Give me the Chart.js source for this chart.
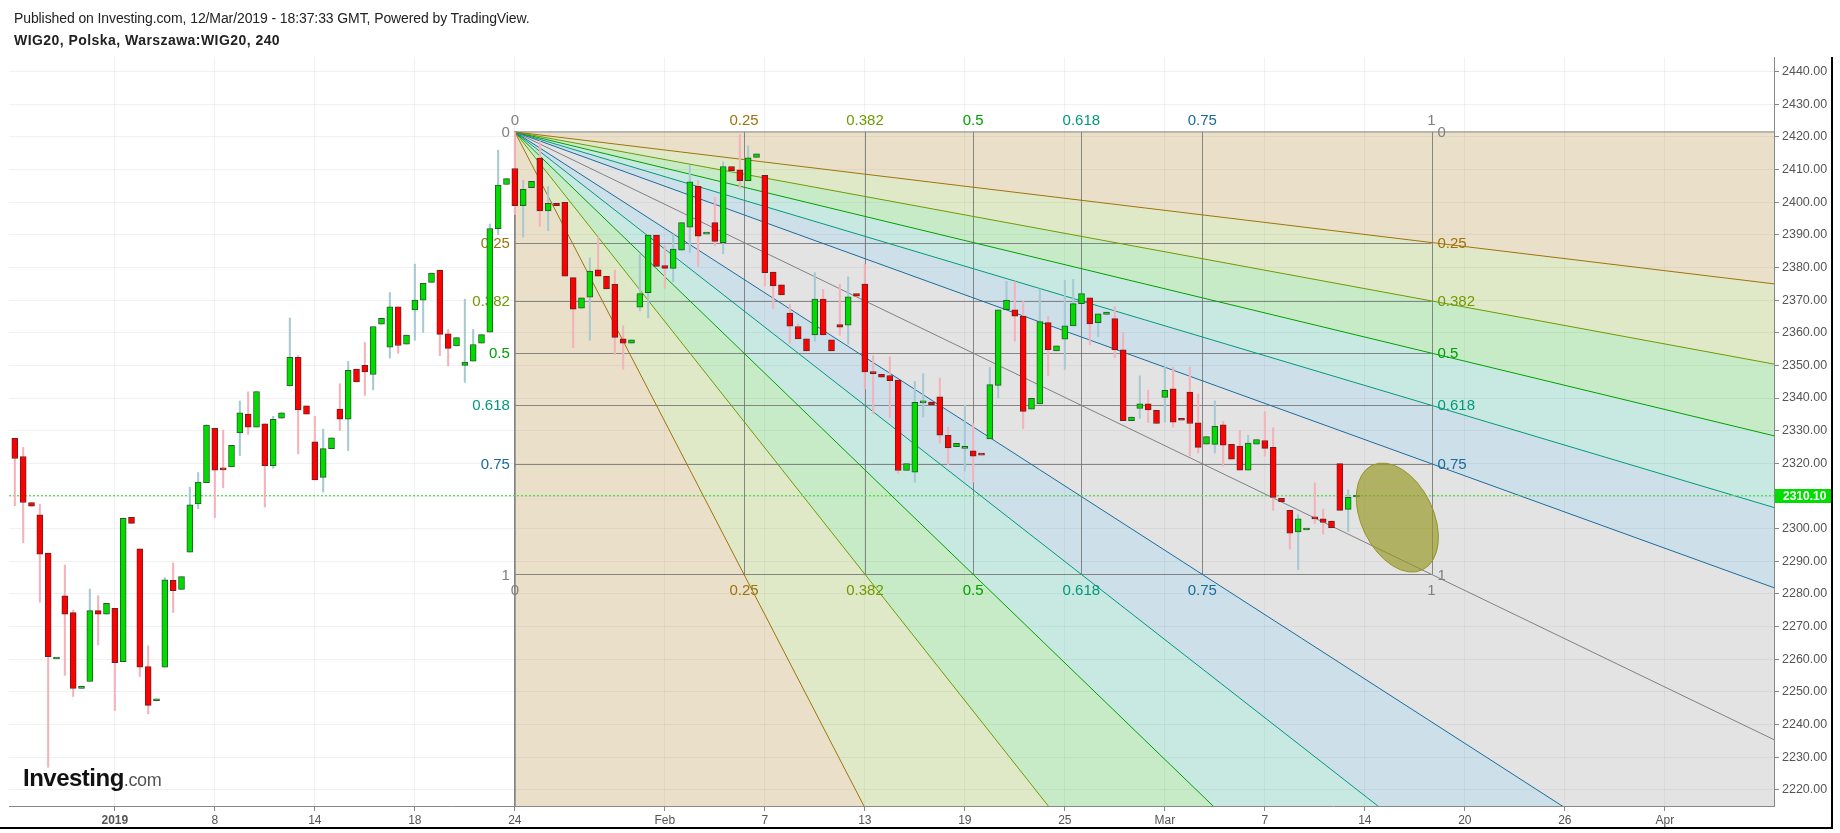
<!DOCTYPE html>
<html>
<head>
<meta charset="utf-8">
<script src="https://cdn.jsdelivr.net/npm/chart.js@4.4.1/dist/chart.umd.min.js"></script>
<style>
  html, body { margin: 0; padding: 0; background: #fff; }
  #wrap { position: relative; width: 1840px; height: 833px; overflow: hidden; }
  #c { position: absolute; left: 0; top: 0; }
  .hdr { position: absolute; left: 14px; font-family: "Liberation Sans", Arial, sans-serif; font-size: 14px; color: #222; white-space: nowrap; line-height: 16px; }
  .logo { position: absolute; left: 23px; top: 764px; font-family: "Liberation Sans", Arial, sans-serif; white-space: nowrap; }
  .logo b { font-size: 24px; letter-spacing: -0.5px; color: #111; }
  .logo span { font-size: 18px; color: #555; letter-spacing: -0.4px; }
</style>
</head>
<body>
<div id="wrap">
  <canvas id="c" width="1840" height="833"></canvas>
  <div class="hdr" style="top:10px;letter-spacing:-0.1px">Published on Investing.com, 12/Mar/2019 - 18:37:33 GMT, Powered by TradingView.</div>
  <div class="hdr" style="top:32px;font-weight:bold;letter-spacing:0.45px">WIG20, Polska, Warszawa:WIG20, 240</div>
  <div class="logo"><b>Investing</b><span>.com</span></div>
</div>
<script>
// 4h bars (3 per session), bar 0 = first bar of 2 Jan 2019
const firstBar = -12;
const opens = [
  2327.7, 2322.1, 2308.0, 2304.2, 2292.5, 2260.1, 2279.4, 2274.3, 2251.1, 2253.2, 2274.9, 2273.8,
  2275.6, 2259.3, 2303.5, 2293.8, 2257.8, 2247.3, 2257.6, 2284.2, 2281.4, 2292.8, 2307.6, 2314.1,
  2330.7, 2318.2, 2318.9, 2329.3, 2335.1, 2331.1, 2332.1, 2319.3, 2333.8, 2343.7, 2352.5, 2337.6,
  2326.6, 2315.7, 2324.5, 2336.6, 2333.5, 2348.9, 2350.0, 2347.2, 2362.6, 2355.6, 2367.9, 2356.5,
  2367.0, 2370.0, 2375.4, 2379.2, 2359.7, 2356.0, 2350.0, 2351.3, 2356.8, 2360.2, 2391.9, 2405.4,
  2410.3, 2398.9, 2404.4, 2413.5, 2397.3, 2399.6, 2399.9, 2376.9, 2367.5, 2370.9, 2379.3, 2377.3,
  2374.8, 2358.1, 2356.8, 2367.8, 2372.3, 2389.9, 2380.6, 2379.7, 2385.3, 2392.3, 2404.8, 2390.2,
  2393.7, 2387.6, 2410.9, 2409.9, 2406.6, 2413.7, 2408.2, 2378.6, 2374.7, 2366.0, 2361.9, 2358.1,
  2359.3, 2370.3, 2357.8, 2362.5, 2362.3, 2372.0, 2374.9, 2348.1, 2347.3, 2346.9, 2345.5, 2317.8,
  2317.3, 2338.5, 2338.8, 2340.4, 2328.6, 2325.1, 2324.6, 2323.8, 2322.9, 2327.5, 2343.9, 2367.1,
  2367.0, 2365.1, 2336.6, 2338.2, 2363.1, 2354.4, 2358.0, 2362.1, 2368.9, 2370.7, 2363.1, 2365.6,
  2364.3, 2354.8, 2333.1, 2336.8, 2338.2, 2336.2, 2340.2, 2342.8, 2333.5, 2341.8, 2332.4, 2325.9,
  2325.8, 2331.8, 2325.8, 2325.3, 2317.9, 2325.9, 2327.0, 2324.9, 2309.3, 2305.6, 2299.0, 2299.6,
  2303.6, 2303.0, 2302.3, 2319.9, 2305.9, 2309.7
];
const highs = [
  2327.7, 2324.9, 2308.0, 2307.5, 2292.5, 2260.3, 2288.9, 2275.1, 2251.6, 2281.5, 2279.5, 2277.1,
  2275.6, 2303.2, 2303.5, 2293.8, 2264.1, 2247.8, 2285.0, 2289.5, 2285.3, 2312.7, 2317.2, 2331.8,
  2330.7, 2330.2, 2325.5, 2339.1, 2341.9, 2342.0, 2332.1, 2334.4, 2335.5, 2364.5, 2353.0, 2337.6,
  2334.4, 2330.5, 2327.8, 2344.4, 2351.2, 2348.9, 2357.0, 2361.9, 2364.4, 2372.3, 2367.9, 2359.3,
  2381.0, 2375.1, 2378.3, 2379.2, 2361.0, 2358.5, 2370.3, 2361.0, 2359.4, 2393.3, 2415.9, 2407.2,
  2421.5, 2406.6, 2406.4, 2418.8, 2404.8, 2399.6, 2399.9, 2376.9, 2370.7, 2382.9, 2389.3, 2377.3,
  2379.2, 2362.1, 2357.8, 2384.0, 2389.9, 2389.9, 2386.6, 2390.2, 2393.7, 2411.2, 2406.6, 2390.6,
  2401.5, 2412.3, 2410.9, 2420.8, 2417.2, 2414.8, 2408.2, 2378.6, 2374.7, 2368.7, 2362.7, 2358.1,
  2378.4, 2373.3, 2357.8, 2374.9, 2377.1, 2372.0, 2380.9, 2353.0, 2347.3, 2352.6, 2345.5, 2319.9,
  2345.1, 2347.5, 2338.8, 2346.1, 2331.1, 2326.1, 2337.8, 2332.2, 2322.9, 2349.4, 2367.0, 2375.7,
  2375.6, 2369.6, 2339.9, 2373.4, 2365.0, 2356.0, 2376.0, 2376.3, 2372.0, 2370.7, 2365.8, 2366.3,
  2368.0, 2360.1, 2334.2, 2346.8, 2342.4, 2336.2, 2349.5, 2349.5, 2333.5, 2349.5, 2341.2, 2328.2,
  2339.1, 2332.9, 2325.8, 2330.1, 2328.6, 2327.3, 2335.8, 2330.9, 2309.3, 2305.6, 2304.3, 2299.9,
  2314.0, 2306.0, 2302.3, 2319.9, 2311.9, 2310.1
];
const lows = [
  2307.0, 2295.7, 2306.9, 2277.5, 2226.9, 2260.1, 2255.1, 2248.6, 2251.1, 2253.2, 2264.4, 2273.8,
  2244.3, 2259.3, 2301.6, 2254.7, 2243.3, 2247.3, 2257.6, 2274.3, 2281.4, 2292.8, 2306.1, 2314.1,
  2303.4, 2312.5, 2318.9, 2322.4, 2328.9, 2331.1, 2306.6, 2318.5, 2333.8, 2343.7, 2322.9, 2335.1,
  2314.9, 2311.2, 2324.5, 2330.0, 2323.9, 2344.9, 2340.8, 2342.5, 2362.6, 2352.2, 2353.7, 2356.5,
  2357.7, 2360.1, 2375.4, 2353.0, 2349.8, 2356.0, 2344.8, 2351.3, 2356.8, 2360.2, 2390.0, 2405.4,
  2396.2, 2389.3, 2404.4, 2392.6, 2391.3, 2398.9, 2377.3, 2355.4, 2367.5, 2357.7, 2377.3, 2373.4,
  2353.3, 2348.8, 2356.8, 2366.7, 2364.5, 2380.3, 2373.6, 2375.6, 2385.3, 2384.6, 2380.3, 2390.2,
  2386.6, 2384.2, 2409.6, 2404.2, 2406.6, 2413.7, 2374.3, 2367.4, 2371.6, 2356.8, 2358.1, 2354.4,
  2357.4, 2359.3, 2354.4, 2359.2, 2356.5, 2371.2, 2342.8, 2335.2, 2346.4, 2334.0, 2316.9, 2317.8,
  2314.2, 2334.2, 2338.0, 2326.2, 2319.6, 2325.1, 2317.6, 2314.3, 2322.5, 2327.5, 2340.1, 2367.1,
  2357.4, 2330.6, 2336.6, 2338.2, 2346.8, 2354.4, 2348.8, 2362.1, 2368.9, 2356.4, 2358.8, 2365.6,
  2352.4, 2333.1, 2333.1, 2333.8, 2332.5, 2332.2, 2332.6, 2331.1, 2333.2, 2322.2, 2323.2, 2325.9,
  2323.2, 2319.2, 2321.3, 2317.9, 2317.9, 2325.9, 2322.2, 2305.6, 2308.3, 2293.7, 2287.4, 2299.6,
  2301.6, 2298.3, 2300.3, 2305.6, 2299.2, 2309.7
];
const closes = [
  2321.5, 2308.0, 2306.9, 2292.2, 2260.8, 2260.3, 2273.8, 2251.1, 2251.5, 2274.9, 2273.8, 2277.1,
  2259.0, 2303.2, 2301.6, 2257.6, 2245.9, 2247.8, 2284.3, 2281.0, 2285.3, 2307.3, 2314.3, 2331.7,
  2317.9, 2318.0, 2325.5, 2335.5, 2331.1, 2342.0, 2319.3, 2333.5, 2335.5, 2352.5, 2336.4, 2335.1,
  2314.9, 2324.5, 2327.8, 2333.5, 2348.5, 2344.9, 2348.0, 2361.9, 2364.4, 2367.9, 2356.1, 2359.3,
  2370.0, 2375.1, 2378.3, 2359.5, 2355.2, 2358.5, 2351.0, 2356.4, 2359.4, 2391.9, 2405.2, 2407.2,
  2398.9, 2403.9, 2406.4, 2397.3, 2399.6, 2398.9, 2377.3, 2367.2, 2370.7, 2378.9, 2377.3, 2373.4,
  2358.6, 2356.8, 2357.8, 2372.0, 2389.9, 2380.3, 2379.7, 2385.6, 2393.7, 2406.2, 2389.6, 2390.6,
  2388.0, 2410.9, 2409.6, 2406.6, 2413.6, 2414.8, 2378.4, 2374.3, 2371.6, 2362.0, 2358.1, 2354.4,
  2370.3, 2359.3, 2354.4, 2361.7, 2371.0, 2371.2, 2348.0, 2347.5, 2346.4, 2345.3, 2317.8, 2319.9,
  2338.7, 2339.0, 2338.0, 2328.6, 2324.7, 2326.1, 2325.0, 2322.2, 2322.5, 2344.1, 2367.0, 2370.0,
  2365.1, 2335.9, 2339.9, 2363.4, 2354.8, 2356.0, 2362.1, 2368.9, 2372.0, 2362.7, 2365.8, 2366.3,
  2354.8, 2333.1, 2334.2, 2338.2, 2336.4, 2332.2, 2342.4, 2332.6, 2333.2, 2332.2, 2324.9, 2328.2,
  2331.3, 2325.6, 2321.3, 2317.9, 2326.2, 2327.3, 2324.6, 2309.6, 2308.3, 2298.6, 2303.0, 2299.9,
  2303.0, 2301.9, 2300.3, 2305.6, 2309.6, 2310.1
];

const xTickPos = [0, 12, 24, 36, 48, 66, 78, 90, 102, 114, 126, 138, 150, 162, 174, 186];
const xTickText = ['2019', '8', '14', '18', '24', 'Feb', '7', '13', '19', '25', 'Mar', '7', '14', '20', '26', 'Apr'];
const xRange = [-12.7, 199.1];
const yRange = [2215.07, 2444.44];

// fib speed resistance fan drawn on the chart
const fanLevels = [0, 0.25, 0.382, 0.5, 0.618, 0.75, 1];
const fanColors = ['#808080', '#a0720a', '#6f9a00', '#00a000', '#00997a', '#1a6c9c', '#808080'];
const fanStart = { x: 48, y: 2421.5 };
const fanEnd = { x: 158, y: 2286 };

const lastPrice = 2310.10;
const marker = { x: 153.9, y: 2303.4 };

const UP = '#00dc00', DOWN = '#ff0000';

function rgba(hex, a) {
  const n = parseInt(hex.slice(1), 16);
  return `rgba(${n >> 16},${(n >> 8) & 255},${n & 255},${a})`;
}

function fanRays() {
  const W = fanEnd.x - fanStart.x, H = fanStart.y - fanEnd.y, T = 6;
  const rays = [];
  fanLevels.forEach((f, k) => rays.push({ color: fanColors[k], far: { x: fanStart.x + T * W, y: fanStart.y - T * f * H } }));
  for (let k = fanLevels.length - 2; k >= 0; k--) {
    const f = fanLevels[k];
    rays.push({ color: fanColors[k], far: { x: fanStart.x + T * f * W, y: fanStart.y - T * H } });
  }
  return rays;
}

const bars = opens.map((o, i) => ({ x: firstBar + i, o, h: highs[i], l: lows[i], c: closes[i] }));
const isUp = i => bars[i].c >= bars[i].o;

const rayDatasets = fanRays().map(r => ({
  type: 'line',
  data: [{ x: fanStart.x, y: fanStart.y }, r.far],
  borderColor: r.color,
  borderWidth: 1,
  pointRadius: 0,
  order: 3
}));

const fanPlugin = {
  id: 'fan',
  beforeDatasetsDraw(chart) {
    const { ctx, chartArea: a, scales: { x, y } } = chart;
    const n = fanLevels.length;
    const rays = fanRays();
    const ox = x.getPixelForValue(fanStart.x), oy = y.getPixelForValue(fanStart.y);
    ctx.save();
    ctx.beginPath();
    ctx.rect(a.left, a.top, a.width, a.height);
    ctx.clip();
    for (let i = 0; i < rays.length - 1; i++) {
      const p1 = rays[i].far, p2 = rays[i + 1].far;
      const col = i < n - 1 ? fanColors[i + 1] : fanColors[2 * (n - 1) - i];
      ctx.beginPath();
      ctx.moveTo(ox, oy);
      ctx.lineTo(x.getPixelForValue(p1.x), y.getPixelForValue(p1.y));
      ctx.lineTo(x.getPixelForValue(p2.x), y.getPixelForValue(p2.y));
      ctx.closePath();
      ctx.fillStyle = rgba(col, 0.22);
      ctx.fill();
    }
    // box grid
    const W = fanEnd.x - fanStart.x, H = fanStart.y - fanEnd.y;
    const x1 = x.getPixelForValue(fanEnd.x), y1 = y.getPixelForValue(fanEnd.y);
    ctx.strokeStyle = 'rgba(110,110,110,0.8)';
    ctx.lineWidth = 1;
    fanLevels.forEach(f => {
      if (f === 0) return;
      const hy = Math.round(y.getPixelForValue(fanStart.y - f * H)) + 0.5;
      const vx = Math.round(x.getPixelForValue(fanStart.x + f * W)) + 0.5;
      ctx.beginPath();
      ctx.moveTo(ox, hy); ctx.lineTo(x1, hy);
      ctx.moveTo(vx, oy); ctx.lineTo(vx, y1);
      ctx.stroke();
    });
    ctx.restore();

    // level labels
    ctx.save();
    ctx.font = '15px "Liberation Sans", Arial, sans-serif';
    fanLevels.forEach((f, k) => {
      const t = String(f);
      ctx.fillStyle = fanColors[k];
      const hy = y.getPixelForValue(fanStart.y - f * H);
      const vx = x.getPixelForValue(fanStart.x + f * W);
      ctx.textBaseline = 'middle';
      ctx.textAlign = 'right';
      ctx.fillText(t, ox - 5, hy + 1);
      ctx.textAlign = 'left';
      ctx.fillText(t, x1 + 6, hy + 1);
      ctx.textAlign = 'center';
      ctx.fillText(t, vx, oy - 11);
      ctx.fillText(t, vx, y1 + 16);
    });
    ctx.restore();
  },
  afterDatasetsDraw(chart) {
    const { ctx, scales: { x, y } } = chart;
    ctx.save();
    ctx.beginPath();
    ctx.ellipse(x.getPixelForValue(marker.x), y.getPixelForValue(marker.y), 36, 58, -0.45, 0, Math.PI * 2);
    ctx.fillStyle = 'rgba(150,150,30,0.65)';
    ctx.fill();
    ctx.strokeStyle = '#94942a';
    ctx.lineWidth = 1;
    ctx.stroke();
    ctx.restore();
  },
  afterDraw(chart) {
    const { ctx, chartArea: a, scales: { y } } = chart;
    const py = Math.round(y.getPixelForValue(lastPrice));
    ctx.save();
    ctx.fillStyle = '#00dd00';
    ctx.fillRect(a.right + 1, py - 7, 57, 14);
    ctx.fillStyle = '#fff';
    ctx.font = 'bold 12px "Liberation Sans", Arial, sans-serif';
    ctx.textBaseline = 'middle';
    ctx.textAlign = 'left';
    ctx.fillText(lastPrice.toFixed(2), a.right + 9, py + 1);
    // outer frame
    ctx.fillStyle = '#000';
    ctx.fillRect(1831, a.top, 2, 828 - a.top);
    ctx.fillRect(0, 827, 1833, 2);
    ctx.restore();
  }
};

Chart.defaults.font.family = '"Liberation Sans", Arial, sans-serif';

new Chart(document.getElementById('c'), {
  type: 'bar',
  data: {
    datasets: [
      {
        type: 'bar',
        data: bars.map(b => ({ x: b.x, y: [b.o, b.c] })),
        backgroundColor: c => isUp(c.dataIndex) ? UP : DOWN,
        borderColor: c => isUp(c.dataIndex) ? '#275a27' : '#6a2222',
        borderWidth: 1,
        borderSkipped: false,
        barThickness: 6,
        minBarLength: 2,
        grouped: false,
        order: 0
      },
      {
        type: 'bar',
        data: bars.map(b => ({ x: b.x, y: [b.l, b.h] })),
        backgroundColor: c => isUp(c.dataIndex) ? '#a6c9d2' : '#f5b2ba',
        barThickness: 1.4,
        grouped: false,
        order: 1
      },
      {
        type: 'line',
        data: [{ x: xRange[0], y: lastPrice }, { x: xRange[1], y: lastPrice }],
        borderColor: '#52e052',
        borderWidth: 1.2,
        borderDash: [2, 2],
        pointRadius: 0,
        order: 2
      },
      ...rayDatasets
    ]
  },
  options: {
    responsive: false,
    devicePixelRatio: 1,
    animation: false,
    layout: { padding: { left: 9, top: 57, right: 0, bottom: 0 } },
    plugins: { legend: { display: false }, tooltip: { enabled: false } },
    scales: {
      x: {
        type: 'linear',
        offset: false,
        min: xRange[0],
        max: xRange[1],
        afterBuildTicks: s => { s.ticks = xTickPos.map(v => ({ value: v })); },
        afterFit: s => { s.height = 27; },
        grid: { offset: false, color: 'rgba(0,0,0,0.055)', tickLength: 5, tickColor: '#888' },
        border: { color: '#888' },
        ticks: {
          autoSkip: false,
          maxRotation: 0,
          padding: 2,
          color: '#555',
          font: c => ({ size: 12, weight: c.tick && c.tick.value === 0 ? 'bold' : 'normal' }),
          callback: v => xTickText[xTickPos.indexOf(v)]
        }
      },
      y: {
        position: 'right',
        min: yRange[0],
        max: yRange[1],
        afterFit: s => { s.width = 66; },
        grid: { color: 'rgba(0,0,0,0.055)', tickLength: 5, tickColor: '#888' },
        border: { color: '#888' },
        ticks: {
          stepSize: 10,
          includeBounds: false,
          padding: 3,
          color: '#555',
          font: { size: 12.5 },
          callback: v => v.toFixed(2)
        }
      }
    }
  },
  plugins: [fanPlugin]
});
</script>
</body>
</html>
